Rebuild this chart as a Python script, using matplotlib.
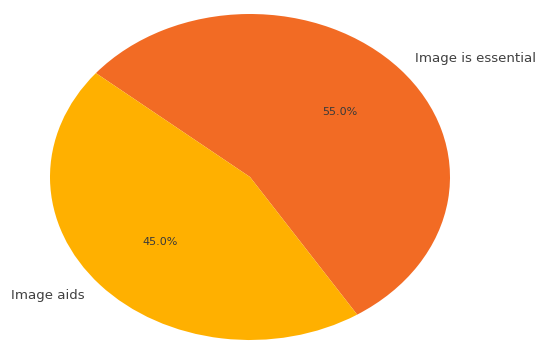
import matplotlib.pyplot as plt

# 資料
labels = ['Image is essential', 'Image aids']
shares = [55.0, 45.0]
colors = ['#F26B24', '#FFB000']

fig = plt.figure(figsize=(5.39, 3.41), dpi=100)
# 橢圓形的圓餅圖：中心約 (250,177) px，水平半徑 200，垂直半徑 163
ax = fig.add_axes([50 / 539, (164 - 163) / 341, 400 / 539, 326 / 341])

wedges, texts, autotexts = ax.pie(
    shares, labels=labels, colors=colors, autopct='%1.1f%%',
    startangle=-57.6, counterclock=True,
    textprops={'fontsize': 9.6, 'color': '#404040'},
)
for t in autotexts:
    t.set_fontsize(8)
    t.set_color('#3a3a3a')

ax.set_aspect('auto')
ax.set_xlim(-1, 1)
ax.set_ylim(-1, 1)
for t in texts + autotexts:
    t.set_clip_on(False)

fig.savefig('out.png', dpi=100)
